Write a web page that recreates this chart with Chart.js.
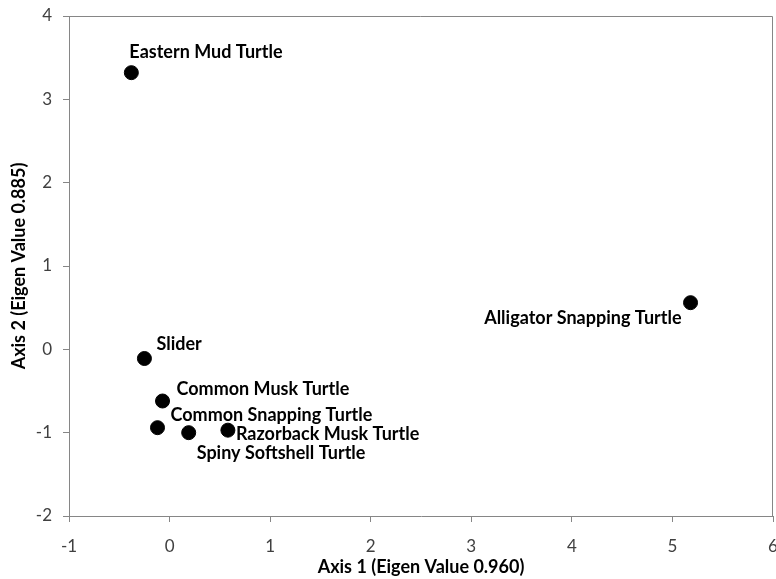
<!DOCTYPE html>
<html>
<head>
<meta charset="utf-8">
<script src="https://cdn.jsdelivr.net/npm/chart.js@4.4.0/dist/chart.umd.min.js"></script>
<style>
  html, body { margin: 0; padding: 0; background: #fff; overflow: hidden; }
  #wrap { width: 776px; height: 579px; }
</style>
</head>
<body>
<div id="wrap"><canvas id="pca" width="776" height="579"></canvas></div>
<script>
// species and their ordination scores
const species = [
  "Eastern Mud Turtle",
  "Slider",
  "Common Musk Turtle",
  "Common Snapping Turtle",
  "Spiny Softshell Turtle",
  "Razorback Musk Turtle",
  "Alligator Snapping Turtle"
];
const axis1 = [-0.38, -0.25, -0.07, -0.12, 0.19, 0.58, 5.18];
const axis2 = [3.32, -0.11, -0.62, -0.94, -1.0, -0.97, 0.56];
const xTicks = [-1, 0, 1, 2, 3, 4, 5, 6];
const yTicks = [-2, -1, 0, 1, 2, 3, 4];

const FONT = "Lato, 'Open Sans', sans-serif";
const axisGray = "#868686";
const tickGray = "#404040";

// where each label sits relative to its marker
const labelPlace = {
  "Eastern Mud Turtle": { dx: -2, dy: -20, align: "left" },
  "Slider": { dx: 12, dy: -14, align: "left" },
  "Common Musk Turtle": { dx: 14, dy: -12, align: "left" },
  "Common Snapping Turtle": { dx: 13, dy: -12, align: "left" },
  "Spiny Softshell Turtle": { dx: 8, dy: 21, align: "left" },
  "Razorback Musk Turtle": { dx: 8, dy: 4, align: "left" },
  "Alligator Snapping Turtle": { dx: -9, dy: 16, align: "right" }
};

const points = species.map((s, i) => ({ x: axis1[i], y: axis2[i], name: s }));

const boxAndLabels = {
  id: "boxAndLabels",
  afterDraw(chart) {
    const c = chart.ctx;
    const a = chart.chartArea;
    c.save();
    c.strokeStyle = axisGray;
    c.lineWidth = 1;
    c.beginPath();
    c.moveTo(a.left, a.top + 0.5);
    c.lineTo(a.right - 0.5, a.top + 0.5);
    c.lineTo(a.right - 0.5, a.bottom);
    c.stroke();

    c.fillStyle = "#000";
    c.font = "bold 18px " + FONT;
    c.textBaseline = "middle";
    const meta = chart.getDatasetMeta(0);
    meta.data.forEach((el, i) => {
      const p = labelPlace[species[i]];
      c.textAlign = p.align;
      c.fillText(species[i], el.x + p.dx, el.y + p.dy);
    });
    c.restore();
  }
};

new Chart(document.getElementById("pca"), {
  type: "scatter",
  data: {
    datasets: [{
      data: points,
      backgroundColor: "#000",
      borderColor: "#000",
      pointRadius: 7,
      pointHoverRadius: 7
    }]
  },
  options: {
    responsive: false,
    animation: false,
    layout: { autoPadding: false, padding: { top: 16, right: 3, left: 8, bottom: 0 } },
    plugins: {
      legend: { display: false },
      tooltip: { enabled: false }
    },
    scales: {
      x: {
        type: "linear",
        min: -1,
        max: 6,
        afterBuildTicks: s => { s.ticks = xTicks.map(v => ({ value: v })); },
        afterFit: s => { s.height = 63; s.paddingLeft = 0; s.paddingRight = 0; },
        grid: { drawOnChartArea: false, drawTicks: true, tickLength: 6, color: axisGray },
        border: { color: axisGray },
        ticks: { color: tickGray, font: { family: FONT, size: 17 }, padding: 14 },
        title: {
          display: true,
          text: "Axis 1 (Eigen Value 0.960)",
          color: "#000",
          font: { family: FONT, size: 18, weight: "bold" },
          padding: { top: 0, bottom: 1.5 }
        }
      },
      y: {
        type: "linear",
        min: -2,
        max: 4,
        afterBuildTicks: s => { s.ticks = yTicks.map(v => ({ value: v })); },
        afterFit: s => { s.width = 61; s.paddingTop = 0; s.paddingBottom = 0; },
        grid: { drawOnChartArea: false, drawTicks: true, tickLength: 6, color: axisGray },
        border: { color: axisGray },
        ticks: { color: tickGray, font: { family: FONT, size: 17 }, padding: 11 },
        title: {
          display: true,
          text: "Axis 2 (Eigen Value 0.885)",
          color: "#000",
          font: { family: FONT, size: 18, weight: "bold" },
          padding: { top: 0, bottom: 0 }
        }
      }
    }
  },
  plugins: [boxAndLabels]
});
</script>
</body>
</html>
